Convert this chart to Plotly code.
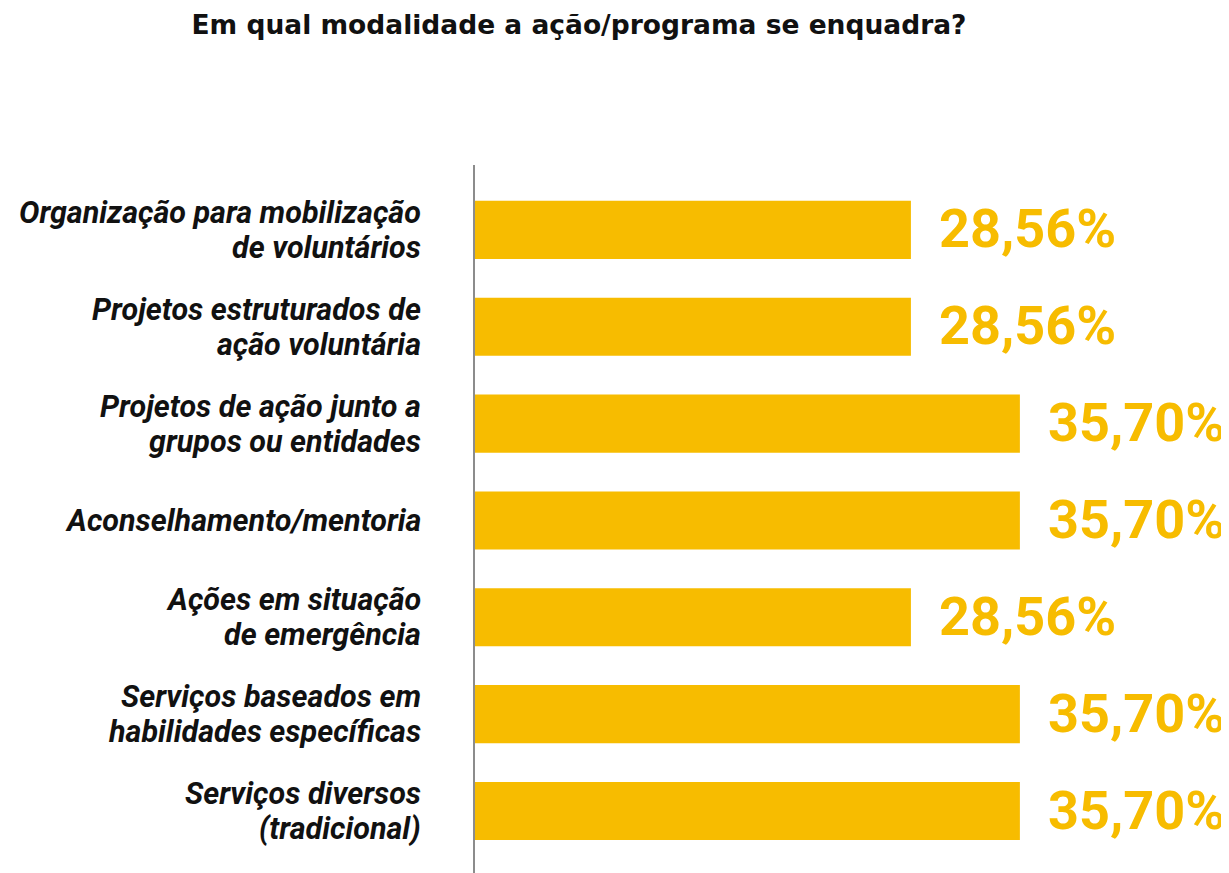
import plotly.graph_objects as go

categories = [
    "Organização para mobilização<br>de voluntários",
    "Projetos estruturados de<br>ação voluntária",
    "Projetos de ação junto a<br>grupos ou entidades",
    "Aconselhamento/mentoria",
    "Ações em situação<br>de emergência",
    "Serviços baseados em<br>habilidades específicas",
    "Serviços diversos<br>(tradicional)",
]
values = [28.56, 28.56, 35.70, 35.70, 28.56, 35.70, 35.70]
value_labels = ["28,56%", "28,56%", "35,70%", "35,70%", "28,56%", "35,70%", "35,70%"]

BAR = "#F7BC00"
OFF = 8  # page body margin compensation

idx = list(range(len(categories)))

fig = go.Figure()
fig.add_trace(go.Bar(
    x=values, y=idx, orientation="h",
    marker=dict(color=BAR, line=dict(width=0)),
    width=0.6, hoverinfo="skip",
))

for i, (v, t) in enumerate(zip(values, value_labels)):
    fig.add_annotation(
        x=v, y=i, text=f"<b>{t}</b>", showarrow=False,
        xanchor="left", yanchor="middle", xshift=26, yshift=1,
        font=dict(family="Roboto, sans-serif", size=54, color=BAR),
    )

LINE = 35
for i, c in enumerate(categories):
    lines = c.split("<br>")
    n = len(lines)
    for k, ln in enumerate(lines):
        dy = ((n - 1) / 2 - k) * LINE
        fig.add_annotation(
            xref="paper", x=0, y=i, text=f"<b><i>{ln}</i></b>", showarrow=False,
            xanchor="right", yanchor="middle", xshift=-52, yshift=dy,
            font=dict(family="Roboto, sans-serif", size=30.5, color="#111111"),
        )

fig.update_layout(
    width=1229, height=873,
    margin=dict(l=475 - OFF, r=OFF, t=165 - OFF, b=OFF, autoexpand=False),
    paper_bgcolor="white", plot_bgcolor="white",
    showlegend=False,
    title=dict(
        text="<b>Em qual modalidade a ação/programa se enquadra?</b>",
        x=(579 - OFF) / 1229, xanchor="center",
        y=1 - (25 - OFF) / 873, yanchor="middle",
        font=dict(family="DejaVu Sans, sans-serif", size=26.5, color="#111111"),
    ),
    xaxis=dict(range=[0, 49.4], visible=False, showgrid=False, zeroline=False),
    yaxis=dict(
        range=[6.64, -0.67], automargin=False,
        showticklabels=False, ticks="",
        showline=True, linecolor="#8c8c8c", linewidth=2,
        showgrid=False, zeroline=False,
    ),
)

fig.write_html("out.html")
